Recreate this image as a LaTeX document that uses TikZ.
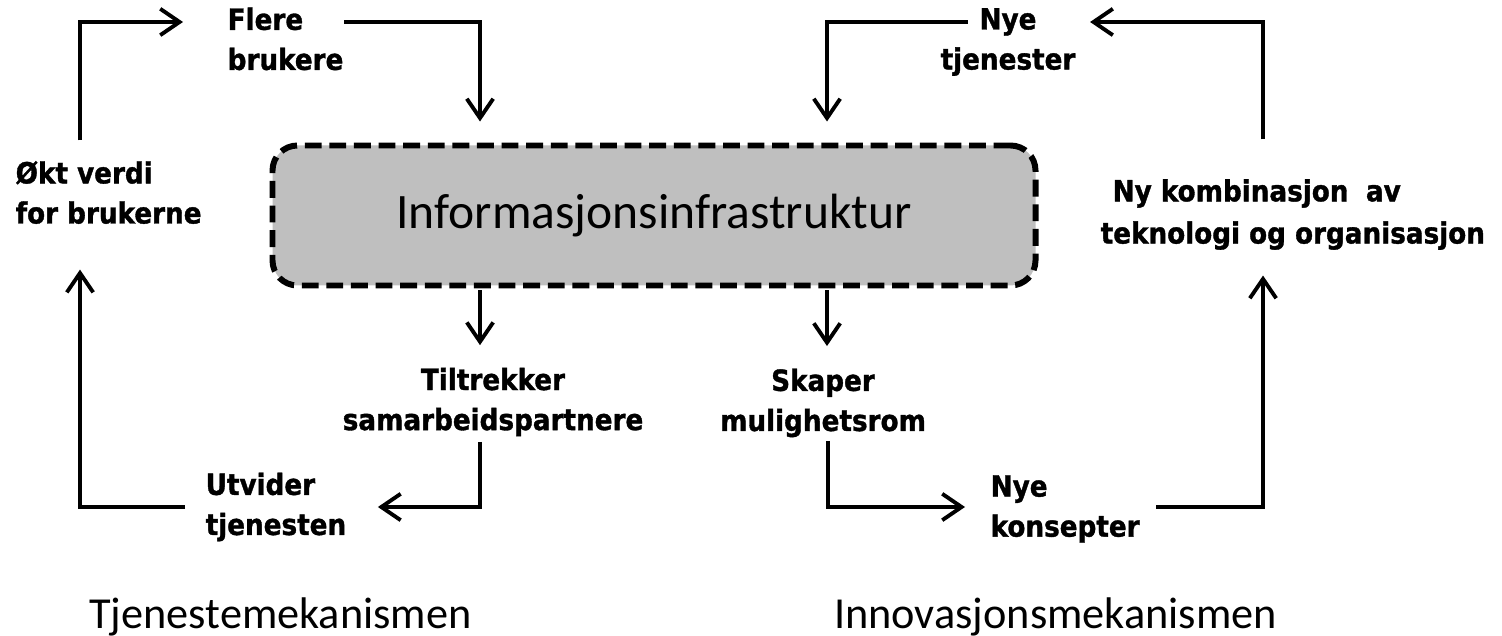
\documentclass[tikz,border=0pt]{standalone}
\usepackage{fontspec}
\setmainfont{Carlito}
\newfontfamily\lblfont{DejaVu Sans Condensed Bold}[FakeBold=1.2]
\usetikzlibrary{arrows.meta,calc}

\tikzset{
  lbl/.style={inner sep=0pt, font=\lblfont\fontsize{8.3}{11.4}\selectfont},
  arr/.style={line width=1.1pt, -{Straight Barb[length=5.5pt,width=7.5pt]}},
  infra/.style={draw, line width=1.7pt, dash pattern=on 4.8pt off 2.2pt,
    fill=black!25, rounded corners=0.25cm, minimum width=7.63cm,
    minimum height=1.40cm, font=\fontsize{14.1}{17}\selectfont},
  mech/.style={anchor=base, font=\fontsize{12.6}{15}\selectfont}
}

\begin{document}
\begin{tikzpicture}
    \useasboundingbox (0,0) rectangle (15.02,-6.36);
    \node[infra] (infra) at (6.54,-2.155) {Informasjonsinfrastruktur};

    \node[lbl, anchor=west, align=left] (flere) at (2.27,-0.39) {Flere\\brukere};
    \node[lbl, align=center] (nyetj) at (10.08,-0.42) {Nye\\tjenester};
    \node[lbl, anchor=west, align=left] (okt) at (0.15,-1.925) {Økt verdi\\for brukerne};
    \node[lbl, anchor=west, align=left] (nykomb) at (11.00,-2.145)
        {\hspace*{0.12cm}Ny kombinasjon\hspace{0.6em}av\\[0.6pt]teknologi og organisasjon};
    \node[lbl, align=center] (tiltr) at (4.93,-4.02) {Tiltrekker\\samarbeidspartnere};
    \node[lbl, align=center] (skaper) at (8.23,-4.03) {Skaper\\mulighetsrom};
    \node[lbl, anchor=west, align=left] (utvid) at (2.05,-5.07) {Utvider\\tjenesten};
    \node[lbl, anchor=west, align=left] (nyekons) at (9.90,-5.09) {Nye\\konsepter};

    \node[mech] (tjmek) at (2.805,-6.28) {Tjenestemekanismen};
    \node[mech] (innmek) at (10.555,-6.28) {Innovasjonsmekanismen};

    % hjoerner
    \coordinate (tl) at (0.80,-0.22);
    \coordinate (tm) at (4.80,-0.22);
    \coordinate (tn) at (8.27,-0.22);
    \coordinate (tr) at (12.63,-0.22);
    \coordinate (bl) at (0.80,-5.07);
    \coordinate (bm) at (4.80,-5.07);
    \coordinate (bn) at (8.28,-5.07);
    \coordinate (br) at (12.63,-5.07);

    % tjenestemekanismen
    \draw[arr, shorten <=0.20cm, shorten >=0.44cm] (okt.north -| tl) -- (tl) -- (flere.west |- tl);
    \draw[arr, shorten >=0.21cm] (flere.east |- tm) -- (tm) -- (infra.north -| tm);
    \draw[arr, shorten <=0.02cm, shorten >=0.22cm] (infra.south -| tm) -- (tiltr.north -| tm);
    \draw[arr, shorten <=0.05cm, shorten >=0.31cm] (tiltr.south -| bm) -- (bm) -- (utvid.east |- bm);
    \draw[arr, shorten <=0.20cm, shorten >=0.45cm] (utvid.west |- bl) -- (bl) -- (okt.south -| bl);

    % innovasjonsmekanismen
    \draw[arr, shorten <=0.02cm, shorten >=0.22cm] (infra.south -| tn) -- (skaper.north -| tn);
    \draw[arr, shorten <=0.03cm, shorten >=0.25cm] (skaper.south -| bn) -- (bn) -- (nyekons.west |- bn);
    \draw[arr, shorten <=0.16cm, shorten >=0.25cm] (nyekons.east |- br) -- (br) -- (nykomb.south -| br);
    \draw[arr, shorten <=0.39cm, shorten >=0.14cm] (nykomb.north -| tr) -- (tr) -- (nyetj.east |- tr);
    \draw[arr, shorten >=0.21cm] ($(nyetj.west |- tn)+(0.28,0)$) -- (tn) -- (infra.north -| tn);
\end{tikzpicture}
\end{document}
